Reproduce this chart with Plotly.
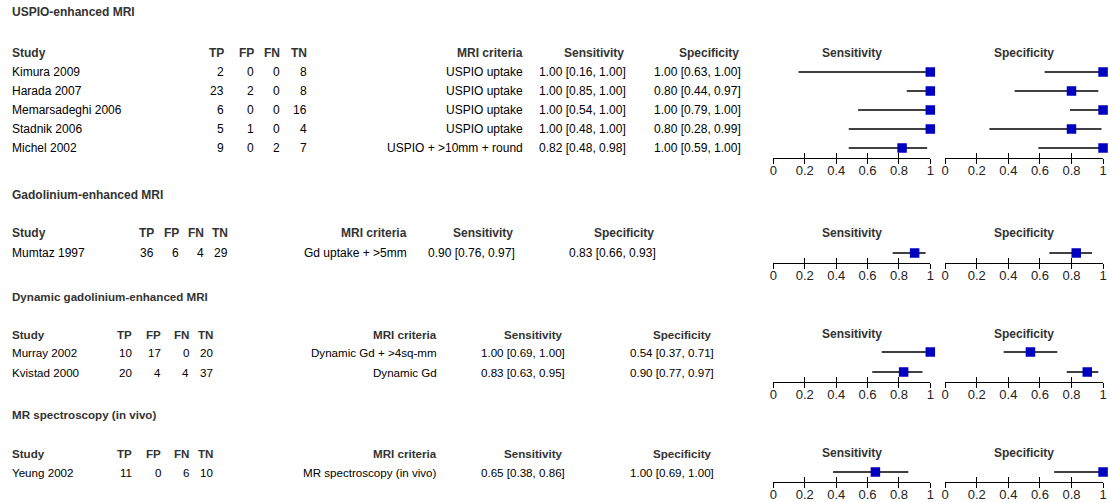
import plotly.graph_objects as go

# ---------------- data ----------------
group_titles = ["USPIO-enhanced MRI", "Gadolinium-enhanced MRI",
                "Dynamic gadolinium-enhanced MRI", "MR spectroscopy (in vivo)"]
study = ["Kimura 2009", "Harada 2007", "Memarsadeghi 2006", "Stadnik 2006", "Michel 2002",
         "Mumtaz 1997", "Murray 2002", "Kvistad 2000", "Yeung 2002"]
study_group = [0, 0, 0, 0, 0, 1, 2, 2, 3]
tp = [2, 23, 6, 5, 9, 36, 10, 20, 11]
fp = [0, 2, 0, 1, 0, 6, 17, 4, 0]
fn = [0, 0, 0, 0, 2, 4, 0, 4, 6]
tn = [8, 8, 16, 4, 7, 29, 20, 37, 10]
criteria = ["USPIO uptake", "USPIO uptake", "USPIO uptake", "USPIO uptake", "USPIO + >10mm + round",
            "Gd uptake + >5mm", "Dynamic Gd + >4sq-mm", "Dynamic Gd", "MR spectroscopy (in vivo)"]
sens = [1.00, 1.00, 1.00, 1.00, 0.82, 0.90, 1.00, 0.83, 0.65]
sens_lo = [0.16, 0.85, 0.54, 0.48, 0.48, 0.76, 0.69, 0.63, 0.38]
sens_hi = [1.00, 1.00, 1.00, 1.00, 0.98, 0.97, 1.00, 0.95, 0.86]
spec = [1.00, 0.80, 1.00, 0.80, 1.00, 0.83, 0.54, 0.90, 1.00]
spec_lo = [0.63, 0.44, 0.79, 0.28, 0.59, 0.66, 0.37, 0.77, 0.69]
spec_hi = [1.00, 0.97, 1.00, 0.99, 1.00, 0.93, 0.71, 0.97, 1.00]
tick_vals = [0, 0.2, 0.4, 0.6, 0.8, 1]
tick_text = ["0", "0.2", "0.4", "0.6", "0.8", "1"]

# ---------------- layout (pixels) ----------------
W, H = 1115, 502
FONT = "Liberation Sans, Arial, sans-serif"
BLUE = "#0000C0"
HEAD = "#333333"
g_size = [12, 12, 11.6, 11.6]
g_row_step = [19, 20, 20, 20]
g_title_y = [12, 195, 296, 414]
g_head_y = [53, 233, 334, 453]
g_row0_y = [72, 253, 352, 472]
cols = [
    dict(tp=223, fp=253, fn=279, tn=306, crit=524, sens=627, spec=743),
    dict(tp=152, fp=177, fn=202, tn=227, crit=407, sens=516, spec=658),
    dict(tp=130, fp=159, fn=187, tn=212, crit=437, sens=566, spec=716),
    dict(tp=130, fp=159, fn=187, tn=212, crit=437, sens=566, spec=716),
]
STUDY_X = 7
PANEL_X = [(775, 933), (948, 1107)]

fig = go.Figure()
ann = []


def px_ann(x, y, text, anchor="left", bold=False, color="#000000", size=12):
    ann.append(dict(x=x, y=y, xref="x", yref="y", text=f"<b>{text}</b>" if bold else text,
                    showarrow=False, xanchor=anchor, yanchor="middle", borderpad=0,
                    font=dict(family=FONT, size=size, color=color)))


# base pixel axis
fig.add_trace(go.Scatter(x=[0], y=[0], mode="markers", marker=dict(opacity=0),
                         xaxis="x", yaxis="y", showlegend=False, hoverinfo="skip"))
layout = dict(
    xaxis=dict(range=[0, W], domain=[0, 1], visible=False, fixedrange=True),
    yaxis=dict(range=[H, 0], domain=[0, 1], visible=False, fixedrange=True),
)

ax_n = 2
for g, title in enumerate(group_titles):
    idx = [i for i, s in enumerate(study_group) if s == g]
    c = cols[g]
    step = g_row_step[g]
    fs = g_size[g]
    px_ann(STUDY_X, g_title_y[g], title, bold=True, color=HEAD, size=fs)
    hy = g_head_y[g]
    px_ann(STUDY_X, hy, "Study", bold=True, color=HEAD, size=fs)
    for key, lab in [("tp", "TP"), ("fp", "FP"), ("fn", "FN"), ("tn", "TN"),
                     ("crit", "MRI criteria"), ("sens", "Sensitivity"), ("spec", "Specificity")]:
        px_ann(c[key] - (2 if key in ("sens", "spec") else 0), hy, lab, anchor="right", bold=True,
               color=HEAD, size=fs)
    for r, i in enumerate(idx):
        y = g_row0_y[g] + r * step
        px_ann(STUDY_X, y, study[i], size=fs)
        px_ann(c["tp"], y, str(tp[i]), anchor="right", size=fs)
        px_ann(c["fp"], y, str(fp[i]), anchor="right", size=fs)
        px_ann(c["fn"], y, str(fn[i]), anchor="right", size=fs)
        px_ann(c["tn"], y, str(tn[i]), anchor="right", size=fs)
        px_ann(c["crit"], y, criteria[i], anchor="right", size=fs)
        px_ann(c["sens"], y, f"{sens[i]:.2f} [{sens_lo[i]:.2f}, {sens_hi[i]:.2f}]", anchor="right", size=fs)
        px_ann(c["spec"], y, f"{spec[i]:.2f} [{spec_lo[i]:.2f}, {spec_hi[i]:.2f}]", anchor="right", size=fs)

    n = len(idx)
    top_px = g_row0_y[g] - step / 2
    axis_px = g_row0_y[g] + (n - 1) * step + 9.5
    ydom = [1 - axis_px / H, 1 - top_px / H]
    yrange = [(axis_px - g_row0_y[g]) / step, -0.5]
    for p, (est, lo, hi, lab) in enumerate([(sens, sens_lo, sens_hi, "Sensitivity"),
                                            (spec, spec_lo, spec_hi, "Specificity")]):
        x0, x1 = PANEL_X[p]
        xa, ya = f"x{ax_n}", f"y{ax_n}"
        xb = f"x{ax_n + 1}"
        fig.add_trace(go.Scatter(
            x=[est[i] for i in idx], y=list(range(n)), mode="markers",
            marker=dict(symbol="square", size=9.5, color=BLUE, line=dict(width=0)),
            error_x=dict(type="data", symmetric=False,
                         array=[hi[i] - est[i] for i in idx],
                         arrayminus=[est[i] - lo[i] for i in idx],
                         color="#000000", thickness=1.3, width=0),
            xaxis=xa, yaxis=ya, showlegend=False, cliponaxis=False, hoverinfo="skip"))
        # second axis for inward ticks
        fig.add_trace(go.Scatter(x=[0.5], y=[0], mode="markers", marker=dict(opacity=0),
                                 xaxis=xb, yaxis=ya, showlegend=False, hoverinfo="skip"))
        common = dict(range=[0, 1], domain=[x0 / W, x1 / W], anchor=ya, tickvals=tick_vals,
                      showgrid=False, zeroline=False, fixedrange=True, tickcolor="#000000",
                      tickwidth=1.2, ticklen=5)
        layout[f"xaxis{ax_n}"] = dict(common, ticktext=tick_text, ticks="outside", showline=True,
                                      linecolor="#000000", linewidth=1.2, ticklabelstandoff=-4,
                                      tickfont=dict(family=FONT, size=13, color="#222222"))
        layout[f"xaxis{ax_n + 1}"] = dict(common, overlaying=xa, ticks="inside", showticklabels=False,
                                          showline=False, side="bottom")
        layout[f"yaxis{ax_n}"] = dict(range=yrange, domain=ydom, anchor=xa, visible=False, fixedrange=True)
        ann.append(dict(x=(x0 + x1) / 2, y=g_head_y[g], xref="x", yref="y", text=f"<b>{lab}</b>",
                        showarrow=False, xanchor="center", yanchor="middle", borderpad=0,
                        font=dict(family=FONT, size=12, color=HEAD)))
        ax_n += 2

fig.update_layout(**layout)
fig.update_layout(width=W, height=H, margin=dict(l=0, r=0, t=0, b=0),
                  paper_bgcolor="white", plot_bgcolor="white", annotations=ann,
                  showlegend=False)
fig.write_html("out.html", config={"displayModeBar": False},
               post_script="document.body.style.margin='0px';document.body.style.overflow='hidden';")
